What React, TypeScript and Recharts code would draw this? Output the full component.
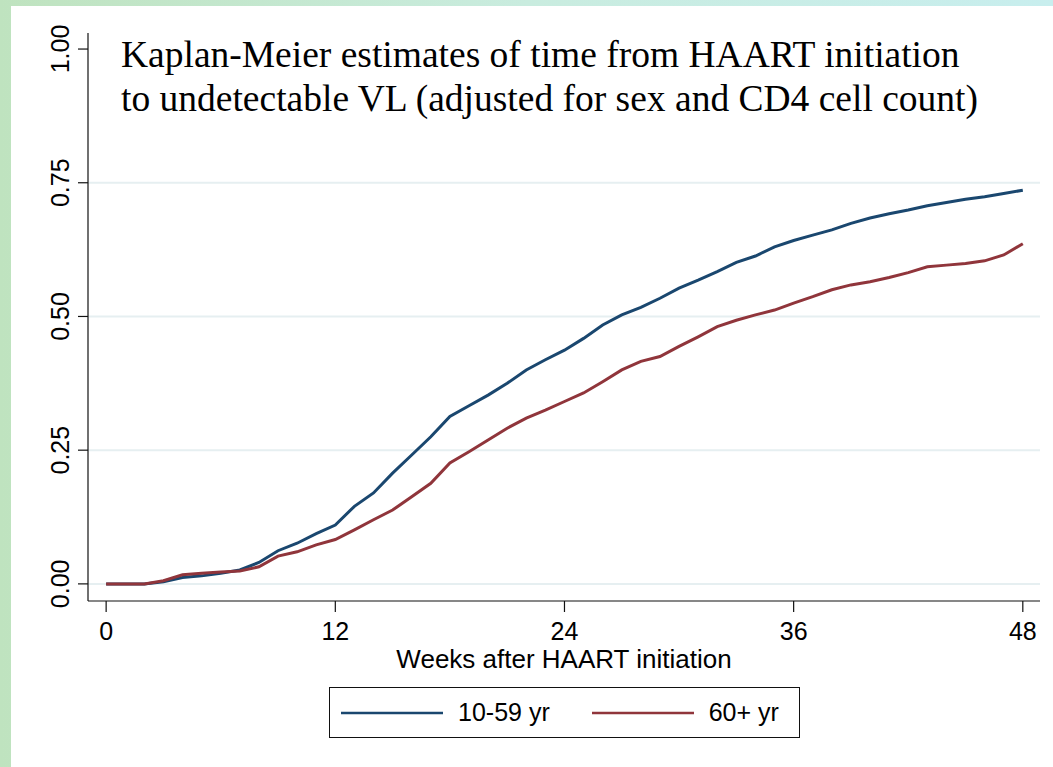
import React from "react";
import {
  CartesianGrid,
  Label,
  Legend,
  Line,
  LineChart,
  XAxis,
  YAxis,
} from "recharts";

// weeks after HAART initiation
const weeks = [
  0, 1, 2, 3, 4, 5, 6, 7, 8, 9, 10, 11, 12, 13, 14, 15, 16, 17, 18, 19, 20, 21,
  22, 23, 24, 25, 26, 27, 28, 29, 30, 31, 32, 33, 34, 35, 36, 37, 38, 39, 40,
  41, 42, 43, 44, 45, 46, 47, 48,
];

// proportion with undetectable VL, 10-59 yr
const youngerShare = [
  0, 0, 0, 0.004, 0.012, 0.015, 0.02, 0.026, 0.04, 0.062, 0.076, 0.094, 0.11,
  0.145, 0.17, 0.207, 0.241, 0.275, 0.313, 0.333, 0.353, 0.375, 0.4, 0.419,
  0.437, 0.459, 0.484, 0.503, 0.517, 0.534, 0.553, 0.568, 0.584, 0.601, 0.613,
  0.63, 0.642, 0.652, 0.662, 0.674, 0.684, 0.692, 0.699, 0.707, 0.713, 0.719,
  0.724, 0.73, 0.736,
];

// proportion with undetectable VL, 60+ yr
const olderShare = [
  0, 0, 0, 0.006, 0.017, 0.02, 0.022, 0.024, 0.032, 0.052, 0.06, 0.073, 0.083,
  0.101, 0.12, 0.138, 0.163, 0.188, 0.226, 0.247, 0.269, 0.291, 0.31, 0.325,
  0.341, 0.357, 0.378, 0.4, 0.416, 0.425, 0.444, 0.462, 0.481, 0.493, 0.503,
  0.512, 0.525, 0.537, 0.55, 0.559, 0.565, 0.573, 0.582, 0.593, 0.596, 0.599,
  0.604, 0.615, 0.636,
];

const xTicks = [0, 12, 24, 36, 48];
const yTicks = [0, 0.25, 0.5, 0.75, 1];
const gridValues = [0, 0.25, 0.5, 0.75];

const seriesNames = ["10-59 yr", "60+ yr"];
const BLUE = "#1a476f";
const RED = "#90353b";
const SANS = "'Liberation Sans', Arial, sans-serif";

const chartData = weeks.map((week, i) => ({
  week,
  younger: youngerShare[i],
  older: olderShare[i],
}));

function YTick(props: any) {
  const { x, y, payload } = props;
  return (
    <text
      transform={`translate(${x - 7}, ${y}) rotate(-90)`}
      textAnchor="middle"
      fontSize={25}
      fontFamily={SANS}
      fill="#000"
    >
      {Number(payload.value).toFixed(2)}
    </text>
  );
}

function LegendBox() {
  const item = (color: string, text: string) => (
    <div style={{ display: "flex", alignItems: "center" }}>
      <svg width={102} height={4} style={{ display: "block" }}>
        <line x1={0} y1={2} x2={102} y2={2} stroke={color} strokeWidth={2.5} />
      </svg>
      <span style={{ marginLeft: 15 }}>{text}</span>
    </div>
  );
  return (
    <div
      style={{
        boxSizing: "border-box",
        width: 471,
        height: 51,
        border: "1px solid #111",
        background: "#fff",
        display: "flex",
        alignItems: "center",
        paddingLeft: 11,
        gap: 42,
        fontFamily: SANS,
        fontSize: 25,
        color: "#000",
      }}
    >
      {item(BLUE, seriesNames[0])}
      {item(RED, seriesNames[1])}
    </div>
  );
}

export default function App() {
  return (
    <div
      style={{
        position: "absolute",
        left: 0,
        top: 0,
        width: 1053,
        height: 767,
        background: "linear-gradient(to right, #bfe3bf, #c9ecdf 50%, #c8eeee)",
        overflow: "hidden",
      }}
    >
      <div
        style={{
          position: "absolute",
          left: 11,
          top: 6,
          right: 0,
          bottom: 0,
          background: "#fff",
        }}
      />
      <div style={{ position: "absolute", left: 0, top: 0 }}>
        <LineChart
          width={1053}
          height={767}
          data={chartData}
          margin={{ top: 33, right: 13, bottom: 0, left: 0 }}
        >
          <CartesianGrid
            horizontal
            vertical={false}
            horizontalValues={gridValues}
            stroke="#e6eff1"
            strokeWidth={2}
          />
          <XAxis
            dataKey="week"
            type="number"
            domain={[-0.95, 48.9]}
            ticks={xTicks}
            allowDataOverflow
            height={166}
            tickSize={11}
            tickMargin={10}
            axisLine={{ stroke: "#111", strokeWidth: 1.2 }}
            tickLine={{ stroke: "#111", strokeWidth: 1.2 }}
            tick={{ fontSize: 25, fontFamily: SANS, fill: "#000" }}
          >
            <Label
              value="Weeks after HAART initiation"
              position="insideTop"
              offset={49}
              style={{ fontSize: 26, fontFamily: SANS, fill: "#000" }}
            />
          </XAxis>
          <YAxis
            type="number"
            domain={[-0.032, 1.03]}
            ticks={yTicks}
            allowDataOverflow
            width={88}
            tickSize={10}
            tickMargin={2}
            axisLine={{ stroke: "#111", strokeWidth: 1.2 }}
            tickLine={{ stroke: "#111", strokeWidth: 1.2 }}
            tick={<YTick />}
          />
          <Line
            type="linear"
            dataKey="younger"
            name={seriesNames[0]}
            stroke={BLUE}
            strokeWidth={3}
            dot={false}
            isAnimationActive={false}
          />
          <Line
            type="linear"
            dataKey="older"
            name={seriesNames[1]}
            stroke={RED}
            strokeWidth={3}
            dot={false}
            isAnimationActive={false}
          />
          <Legend
            layout="horizontal"
            align="center"
            verticalAlign="middle"
            content={<LegendBox />}
            wrapperStyle={{ left: 329, top: 687, width: 471, height: 51 }}
          />
        </LineChart>
      </div>
      <div
        style={{
          position: "absolute",
          left: 121,
          top: 33,
          fontFamily: "'Liberation Serif', 'Times New Roman', serif",
          fontSize: 37.5,
          lineHeight: "44px",
          color: "#000",
          whiteSpace: "nowrap",
        }}
      >
        Kaplan-Meier estimates of time from HAART initiation
        <br />
        to undetectable VL (adjusted for sex and CD4 cell count)
      </div>
    </div>
  );
}
